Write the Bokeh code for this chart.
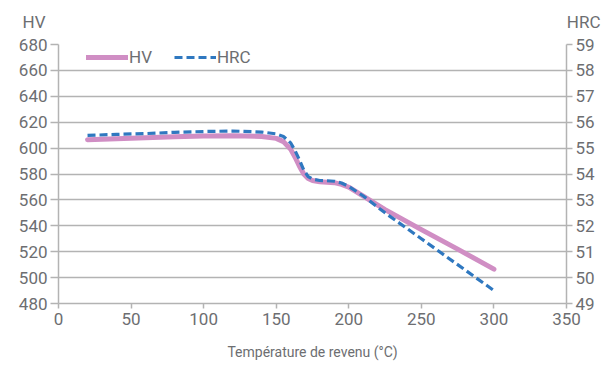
from bokeh.plotting import figure
from bokeh.models import Range1d, LinearAxis, FixedTicker, Legend, LegendItem, Title
from bokeh.embed import file_html
from bokeh.resources import INLINE

# ---- data ----
hv_temp = [20, 40, 60, 80, 100, 120, 140, 150, 155, 160, 163, 166, 169, 172, 175, 180, 185, 190, 195, 200, 210, 225, 250, 275, 300]
hv_vals = [606.5, 607.2, 608.0, 608.8, 609.4, 609.6, 609.0, 607.5, 605.0, 599.0, 593.0, 586.0, 580.0, 576.5, 575.0, 574.0, 573.7, 573.3, 572.0, 569.8, 563.0, 552.5, 537.0, 522.0, 506.5]

hrc_temp = [20, 40, 60, 80, 100, 120, 140, 150, 155, 160, 163, 166, 169, 172, 175, 180, 185, 190, 195, 200, 210, 225, 250, 275, 300]
hrc_vals = [55.49, 55.53, 55.56, 55.61, 55.64, 55.66, 55.62, 55.55, 55.45, 55.2, 54.9, 54.55, 54.15, 53.9, 53.8, 53.75, 53.74, 53.72, 53.65, 53.52, 53.15, 52.5, 51.5, 50.5, 49.5]

x_ticks = [0, 50, 100, 150, 200, 250, 300, 350]
hv_ticks = [480, 500, 520, 540, 560, 580, 600, 620, 640, 660, 680]
hrc_ticks = [49, 50, 51, 52, 53, 54, 55, 56, 57, 58, 59]

TXT = "#6d6e71"
FONT = "Roboto"
GRID = "#b3b3b3"
PINK = "#d08ec4"
BLUE = "#2f78c0"

p = figure(width=615, height=365, output_backend="svg", toolbar_location=None,
           x_range=Range1d(0, 350), y_range=Range1d(480, 680),
           min_border_left=58, min_border_top=43, min_border_right=49, min_border_bottom=62)
p.outline_line_color = None
p.background_fill_color = "white"
p.border_fill_color = "white"

p.extra_y_ranges = {"hrc": Range1d(49, 59)}

# axes styling
for ax in [p.xaxis[0], p.yaxis[0]]:
    ax.axis_line_color = GRID
    ax.axis_line_width = 1.5
    ax.major_tick_line_color = GRID
    ax.major_tick_line_width = 1.5
    ax.minor_tick_line_color = None
    ax.major_label_text_color = TXT
    ax.major_label_text_font = FONT
    ax.major_label_text_font_size = "17px"
    ax.major_tick_in = 0

p.xaxis.ticker = FixedTicker(ticks=x_ticks)
p.yaxis.ticker = FixedTicker(ticks=hv_ticks)
p.xaxis.major_tick_out = 5
p.yaxis.major_tick_out = 8
p.xaxis.major_label_standoff = 4
p.yaxis.major_label_standoff = 3
p.xaxis.axis_label = "Température de revenu (°C)"
p.xaxis.axis_label_text_font = FONT
p.xaxis.axis_label_text_font_style = "normal"
p.xaxis.axis_label_text_font_size = "14px"
p.xaxis.axis_label_text_color = TXT
p.xaxis.axis_label_standoff = 16

raxis = LinearAxis(y_range_name="hrc", ticker=FixedTicker(ticks=hrc_ticks))
raxis.axis_line_color = GRID
raxis.axis_line_width = 1.5
raxis.major_tick_line_color = GRID
raxis.major_tick_line_width = 1.5
raxis.minor_tick_line_color = None
raxis.major_tick_in = 0
raxis.major_tick_out = 6
raxis.major_label_standoff = 3
raxis.major_label_text_color = TXT
raxis.major_label_text_font = FONT
raxis.major_label_text_font_size = "17px"
p.add_layout(raxis, "right")

p.xgrid.grid_line_color = None
p.ygrid.grid_line_color = GRID
p.ygrid.grid_line_width = 1.5
p.ygrid.ticker = FixedTicker(ticks=hv_ticks)

r_hv = p.line(hv_temp, hv_vals, line_color=PINK, line_width=5, line_join="round", line_cap="round")
r_hrc = p.line(hrc_temp, hrc_vals, y_range_name="hrc", line_color=BLUE, line_width=3.2,
               line_dash="8 4", line_join="round")

legend = Legend(items=[LegendItem(label="HV", renderers=[r_hv]), LegendItem(label="HRC", renderers=[r_hrc])],
                orientation="horizontal", location=(28, 236), padding=0, margin=0,
                glyph_width=42, glyph_height=12, label_standoff=1, spacing=22,
                background_fill_alpha=0, border_line_color=None,
                label_text_font=FONT, label_text_font_size="17px", label_text_color=TXT)
p.add_layout(legend, "center")

t_hv = Title(text="HV", align="left", offset=-36, standoff=22, vertical_align="top",
             text_font=FONT, text_font_size="17px", text_font_style="normal", text_color=TXT)
p.add_layout(t_hv, "above")
t_hrc = Title(text="HRC", align="right", offset=-34, standoff=-62, vertical_align="bottom",
              text_font=FONT, text_font_size="17px", text_font_style="normal", text_color=TXT)
p.add_layout(t_hrc, "above")

open("out.html", "w").write(file_html(p, INLINE))
